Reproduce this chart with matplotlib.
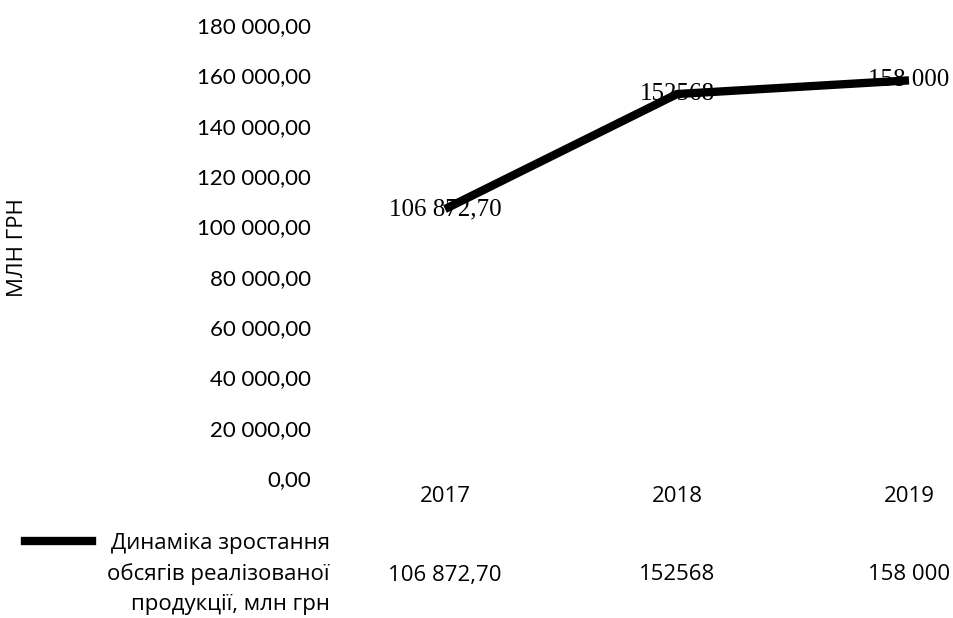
import matplotlib
matplotlib.use("Agg")
import matplotlib.pyplot as plt
import matplotlib.transforms as mtrans
from matplotlib.ticker import FuncFormatter

years = ["2017", "2018", "2019"]
values = [106872.70, 152568, 158000]
value_labels = ["106 872,70", "152568", "158 000"]
series_name = "Динаміка зростання\nобсягів реалізованої\nпродукції, млн грн"
y_label = "МЛН ГРН"

W, H = 954, 618
fig = plt.figure(figsize=(W / 100, H / 100), dpi=100)
left_px, right_px = 329, 954
bot_px, top_px = 478, 25
ax = fig.add_axes([left_px / W, (H - bot_px) / H, (right_px - left_px) / W, (bot_px - top_px) / H])

x = list(range(len(years)))
ax.plot(x, values, color="black", linewidth=6, solid_capstyle="butt", solid_joinstyle="miter", zorder=2)

ax.set_ylim(0, 180000)
ax.set_xlim(-0.5, -0.5 + (right_px - left_px) / 232)
ax.set_yticks(range(0, 180001, 20000))
ax.yaxis.set_major_formatter(FuncFormatter(lambda v, p: f"{int(v):,}".replace(",", " ") + ",00"))
ax.set_xticks(x)
ax.set_xticklabels(years)
for s in ax.spines.values():
    s.set_visible(False)
ax.tick_params(axis="both", length=0)
ax.tick_params(axis="y", pad=13, labelsize=16)
ax.tick_params(axis="x", pad=6, labelsize=16)
for lab in ax.get_yticklabels():
    lab.set_fontfamily("Lato")
for lab in ax.get_xticklabels():
    lab.set_fontfamily("Open Sans")

# data labels
for xi, v, lab in zip(x, values, value_labels):
    ax.text(xi, v, lab, ha="center", va="center", fontsize=18, family="Liberation Serif", color="black", zorder=3)

# y label
fig.text(18 / W, 1 - 248 / H, y_label, rotation=90, ha="center", va="center", fontsize=16, family="Open Sans")

# data table row
trans = mtrans.blended_transform_factory(ax.transData, fig.transFigure)
for xi, lab in zip(x, value_labels):
    ax.text(xi, 1 - 575 / H, lab, transform=trans, ha="center", va="center", fontsize=16, family="Open Sans", clip_on=False)

fig.text(330 / W, 1 - 574 / H, series_name, ha="right", va="center", fontsize=16, family="Open Sans", linespacing=1.55)
fig.add_artist(plt.Line2D([25 / W, 92 / W], [1 - 541 / H, 1 - 541 / H], color="black", linewidth=6, transform=fig.transFigure))

fig.savefig("out.png", dpi=100)
